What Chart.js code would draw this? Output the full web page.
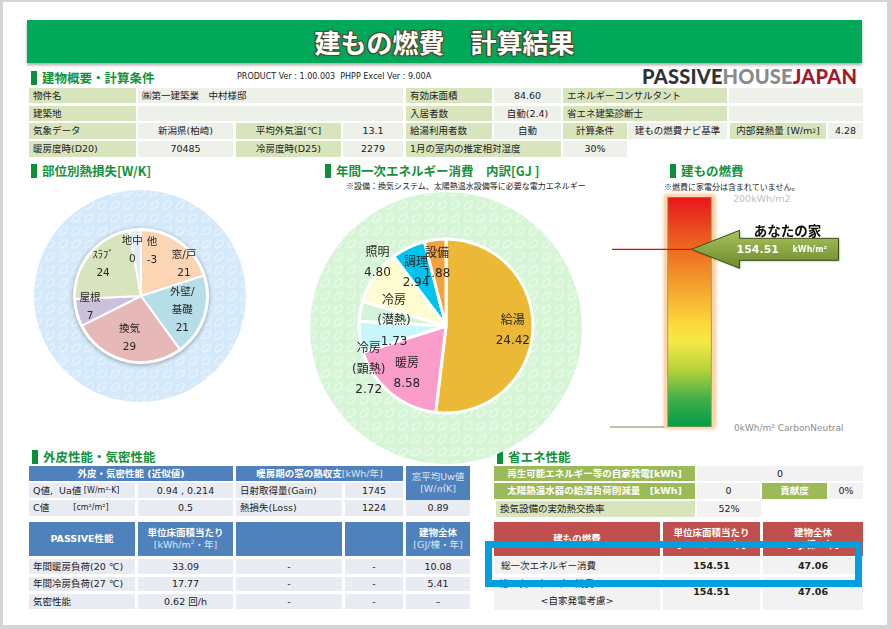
<!DOCTYPE html>
<html lang="ja">
<head>
<meta charset="utf-8">
<script src="https://cdn.jsdelivr.net/npm/chart.js@4.4.1/dist/chart.umd.min.js"></script>
<style>
html, body { margin: 0; padding: 0; }
body {
  width: 892px; height: 629px; position: relative; overflow: hidden;
  background: #d4d4d4;
  font-family: "DejaVu Sans", "Noto Sans CJK JP", sans-serif; color: #222;
}
#page { position: absolute; left: 3px; top: 2px; width: 884px; height: 623px; background: #fff; }
.abs { position: absolute; white-space: nowrap; }
#titlebar {
  position: absolute; left: 27px; top: 20px; width: 835px; height: 43px;
  background: #00a85a; box-shadow: 0 2px 3px rgba(0,0,0,0.35);
  display: flex; align-items: center; justify-content: center;
  font-family: "Noto Sans CJK JP", sans-serif; font-weight: bold; font-size: 26px; color: #fff;
  text-shadow: 1px 1px 0 #4b4b2b, -1px -1px 0 #4b4b2b, 1px -1px 0 #4b4b2b, -1px 1px 0 #4b4b2b, 0 0 3px #4b4b2b;
}
.head {
  position: absolute; font-family: "Noto Sans CJK JP", sans-serif; font-weight: bold;
  font-size: 12.5px; color: #14913a; white-space: nowrap; line-height: 14px;
}
.head::before {
  content: ""; position: absolute; left: -11px; top: 0; width: 6px; height: 14px; background: #0a8f3a;
}
.note { position: absolute; font-family: "Noto Sans CJK JP", sans-serif; font-size: 8px; color: #222; white-space: nowrap; }
canvas { position: absolute; z-index: 1; }
.c {
  position: absolute; display: flex; align-items: center; justify-content: center;
  font-size: 9.5px; white-space: nowrap; box-sizing: border-box; z-index: 2; line-height: 1.25; overflow: hidden;
}
.c.l { justify-content: flex-start; padding-left: 4px; }
.c.col { flex-direction: column; }
.c.top { justify-content: flex-start; }
.g { background: #d8e4bc; }
.v { background: #eef0ea; }
.b { background: #4f81bd; color: #fff; font-weight: bold; }
.bd { background: #e8ecf2; }
.gg { background: #9bbb59; color: #fff; font-weight: bold; }
.r { background: #c0504d; color: #fff; font-weight: bold; }
.w { background: #f2f2f2; }
.sub { font-weight: normal; color: #dbe5f1; }
.sm { font-size: 8px; }
#logo { position: absolute; left: 642px; top: 64px; font-family: Lato, sans-serif; font-weight: 900; font-size: 20px; letter-spacing: 0.2px; }
#focus { position: absolute; left: 485px; top: 541px; width: 377px; height: 46px; box-sizing: border-box; border: 7px solid #00a0e0; z-index: 5; }
</style>
</head>
<body>
<div id="page"></div>
<div id="titlebar">建もの燃費　計算結果</div>

<div class="head" style="left:42px;top:71px;">建物概要・計算条件</div>
<div class="abs" style="left:237px;top:72px;font-size:8px;">PRODUCT Ver : 1.00.003&nbsp; PHPP Excel Ver : 9.00A</div>
<div id="logo"><span style="color:#333">PASSIVE</span><span style="color:#8a8a8a">HOUSE</span><span style="color:#a11a2b">JAPAN</span></div>

<div class="head" style="left:42px;top:164px;">部位別熱損失[W/K]</div>
<div class="head" style="left:336px;top:164px;">年間一次エネルギー消費　内訳[GJ ]</div>
<div class="note" style="left:346px;top:180px;">※設備：換気システム、太陽熱温水設備等に必要な電力エネルギー</div>
<div class="head" style="left:681px;top:164px;">建もの燃費</div>
<div class="note" style="left:664px;top:181px;">※燃費に家電分は含まれていません。</div>
<div class="abs" style="left:733px;top:193px;font-size:9.5px;color:#c0c0c0;">200kWh/m2</div>
<div class="abs" style="left:734px;top:423px;font-size:9px;color:#8c8c8c;">0kWh/m² CarbonNeutral</div>

<div class="head" style="left:43px;top:450px;">外皮性能・気密性能</div>
<div class="head" style="left:508px;top:450px;">省エネ性能</div>

<canvas id="heatPie" width="220" height="220" style="left:31px;top:186px;"></canvas>
<canvas id="energyPie" width="280" height="280" style="left:306px;top:186px;"></canvas>
<canvas id="fuelBar" width="245" height="245" style="left:605px;top:190px;"></canvas>

<div id="focus"></div>

<script>
// 部位別熱損失 [W/K]
const heatLabels = ["窓/戸", "外壁/\n基礎", "換気", "屋根", "ｽﾗﾌﾞ", "地中", "他"];
const heatValues = [21, 21, 29, 7, 24, 0, -3];
const heatColors = ["#fcd5b5", "#b7dee8", "#e6b9b8", "#ccc1da", "#d7e4bd", "#dfe6f3", "#e3e9f6"];

// 年間一次エネルギー消費 内訳 [GJ]
const energyLabels = ["給湯", "暖房", "冷房\n(顕熱)", "冷房\n(潜熱)", "照明", "調理", "設備"];
const energyValues = [24.42, 8.58, 2.72, 1.73, 4.80, 2.94, 1.88];
const energyColors = ["#ebb935", "#fb9dca", "#c8f6fb", "#d5f3d8", "#fffcd2", "#00c4ee", "#f7a13a"];

// 建もの燃費 [kWh/m2]
const fuelScale = [0, 200];
const fuelPerArea = 154.51;

Chart.defaults.font.family = '"DejaVu Sans", "Noto Sans CJK JP", sans-serif';

// table cells: [x1, x2, y, h, html, class]
const cells = [
  [29, 136, 88, 15, "物件名", "g l"],
  [138, 403, 88, 15, "㈱第一建築業　中村様邸", "v l"],
  [406, 492, 88, 15, "有効床面積", "g l"],
  [494, 561, 88, 15, "84.60", "v"],
  [563, 727, 88, 15, "エネルギーコンサルタント", "g l"],
  [729, 863, 88, 15, "", "v"],
  [29, 136, 106, 15, "建築地", "g l"],
  [138, 403, 106, 15, "", "v"],
  [406, 492, 106, 15, "入居者数", "g l"],
  [494, 561, 106, 15, "自動(2.4)", "v"],
  [563, 727, 106, 15, "省エネ建築診断士", "g l"],
  [729, 863, 106, 15, "", "v"],
  [29, 136, 123, 16, "気象データ", "g l"],
  [138, 233, 123, 16, "新潟県(柏崎)", "v"],
  [236, 341, 123, 16, "平均外気温[℃]", "g"],
  [343, 403, 123, 16, "13.1", "v"],
  [406, 492, 123, 16, "給湯利用者数", "g l"],
  [494, 561, 123, 16, "自動", "v"],
  [563, 627, 123, 16, "計算条件", "g"],
  [628, 727, 123, 16, "建もの燃費ナビ基準", "v"],
  [730, 826, 123, 16, "内部発熱量 [W/m<sup style='font-size:6px'>2</sup>]", "g"],
  [828, 863, 123, 16, "4.28", "v"],
  [29, 136, 141, 16, "暖房度時(D20)", "g l"],
  [138, 233, 141, 16, "70485", "v"],
  [236, 341, 141, 16, "冷房度時(D25)", "g"],
  [343, 403, 141, 16, "2279", "v"],
  [406, 561, 141, 16, "1月の室内の推定相対湿度", "g l"],
  [563, 627, 141, 16, "30%", "v"],

  [29, 233, 466, 15, "外皮・気密性能 (近似値)", "b"],
  [236, 403, 466, 15, "暖房期の窓の熱収支 <span class='sub'>[kWh/年]</span>", "b"],
  [406, 470, 466, 34, "<span class='sub'>窓平均Uw値</span><span class='sub'>[W/㎡K]</span>", "b col"],
  [29, 135, 483, 15, "Q値,&nbsp; Ua値 <span class='sm'>&nbsp;[W/m²·K]</span>", "bd l"],
  [138, 233, 483, 15, "0.94 , 0.214", "bd"],
  [236, 342, 483, 15, "日射取得量(Gain)", "bd l"],
  [345, 403, 483, 15, "1745", "bd"],
  [29, 135, 500, 16, "C値 &nbsp;&nbsp;&nbsp;&nbsp;&nbsp;&nbsp;&nbsp;<span class='sm'>[cm²/m²]</span>", "bd l"],
  [138, 233, 500, 16, "0.5", "bd"],
  [236, 342, 500, 16, "熱損失(Loss)", "bd l"],
  [345, 403, 500, 16, "1224", "bd"],
  [406, 470, 500, 16, "0.89", "bd"],
  [29, 135, 522, 34, "PASSIVE性能", "b"],
  [138, 233, 522, 34, "<span>単位床面積当たり</span><span class='sub'>[kWh/m<sup style='font-size:6px'>2</sup>・年]</span>", "b col"],
  [236, 342, 522, 34, "", "b"],
  [345, 403, 522, 34, "", "b"],
  [406, 470, 522, 34, "<span>建物全体</span><span class='sub'>[GJ/棟・年]</span>", "b col"],
  [29, 135, 559, 15, "年間暖房負荷(20 ℃)", "bd l"],
  [138, 233, 559, 15, "33.09", "bd"],
  [236, 342, 559, 15, "-", "bd"],
  [345, 403, 559, 15, "-", "bd"],
  [406, 470, 559, 15, "10.08", "bd"],
  [29, 135, 577, 14, "年間冷房負荷(27 ℃)", "bd l"],
  [138, 233, 577, 14, "17.77", "bd"],
  [236, 342, 577, 14, "-", "bd"],
  [345, 403, 577, 14, "-", "bd"],
  [406, 470, 577, 14, "5.41", "bd"],
  [29, 135, 594, 15, "気密性能", "bd l"],
  [138, 233, 594, 15, "0.62 回/h", "bd"],
  [236, 342, 594, 15, "-", "bd"],
  [345, 403, 594, 15, "-", "bd"],
  [406, 470, 594, 15, "–", "bd"],

  [494, 695, 466, 15, "再生可能エネルギー等の自家発電[kWh]", "gg"],
  [697, 863, 466, 15, "0", "w"],
  [494, 695, 483, 16, "太陽熱温水器の給湯負荷削減量　[kWh]", "gg"],
  [697, 760, 483, 16, "0", "w"],
  [762, 827, 483, 16, "貢献度", "gg"],
  [829, 863, 483, 16, "0%", "w"],
  [496, 695, 501, 16, "換気設備の実効熱交換率", "g l"],
  [697, 761, 501, 16, "52%", "w"],
  [494, 660, 522, 34, "建もの燃費", "r"],
  [663, 760, 522, 34, "<span>単位床面積当たり</span><span>[kWh/m²・年]</span>", "r col"],
  [763, 863, 522, 34, "<span>建物全体</span><span>[GJ/棟・年]</span>", "r col"],
  [494, 660, 557, 17, "&nbsp;総一次エネルギー消費", "w l"],
  [663, 760, 557, 17, "<b>154.51</b>", "w"],
  [763, 863, 557, 17, "<b>47.06</b>", "w"],
  [494, 660, 577, 33, "<span style='align-self:flex-start;padding-left:5px;margin-top:1px'>総一次エネルギー消費</span><span style='margin-top:5px'>&lt;自家発電考慮&gt;</span>", "w col top"],
  [663, 760, 577, 30, "<b>154.51</b>", "w"],
  [763, 863, 577, 30, "<b>47.06</b>", "w"],
  [663, 760, 607, 3, "", "w"],
  [763, 863, 607, 3, "", "w"]
];

cells.forEach(([x1, x2, y, h, html, cls]) => {
  const d = document.createElement("div");
  d.className = "c " + cls;
  d.style.cssText = `left:${x1}px;top:${y}px;width:${x2 - x1}px;height:${h}px;`;
  d.innerHTML = html;
  document.body.appendChild(d);
});

// tiled background for the decorative circles
function tile(base, light) {
  const t = document.createElement("canvas");
  t.width = 13; t.height = 13;
  const c = t.getContext("2d");
  c.fillStyle = base;
  c.fillRect(0, 0, 13, 13);
  c.strokeStyle = light;
  c.lineWidth = 1.2;
  c.beginPath();
  c.moveTo(2, 10);
  c.quadraticCurveTo(2, 2, 10, 2);
  c.quadraticCurveTo(11, 10, 2, 10);
  c.stroke();
  return t;
}

const ringBg = {
  id: "ringBg",
  beforeDatasetsDraw(chart, args, opts) {
    const ctx = chart.ctx;
    const arc = chart.getDatasetMeta(0).data[0];
    const { x, y, outerRadius } = arc.getProps(["x", "y", "outerRadius"], true);
    ctx.save();
    ctx.fillStyle = ctx.createPattern(tile(opts.base, opts.light), "repeat");
    ctx.beginPath();
    ctx.arc(x + opts.dx, y + opts.dy, opts.radius, 0, Math.PI * 2);
    ctx.fill();
    ctx.shadowColor = opts.shadow;
    ctx.shadowBlur = 4;
    ctx.shadowOffsetY = 1;
    ctx.fillStyle = "#fff";
    ctx.beginPath();
    ctx.arc(x, y, outerRadius + opts.rim, 0, Math.PI * 2);
    ctx.fill();
    ctx.restore();
  }
};

const sliceLabels = {
  id: "sliceLabels",
  afterDatasetsDraw(chart, args, opts) {
    const ctx = chart.ctx;
    const values = chart.data.datasets[0].data;
    ctx.save();
    ctx.font = opts.font;
    ctx.fillStyle = "#262626";
    ctx.textAlign = "center";
    ctx.textBaseline = "middle";
    chart.getDatasetMeta(0).data.forEach((arc, i) => {
      const p = arc.getProps(["x", "y", "startAngle", "endAngle", "outerRadius"], true);
      const a = (p.startAngle + p.endAngle) / 2 + opts.shift[i] * Math.PI / 180;
      const r = p.outerRadius * opts.dist[i];
      const cx = p.x + Math.cos(a) * r;
      const cy = p.y + Math.sin(a) * r;
      const lines = chart.data.labels[i].split("\n").concat(values[i].toFixed(opts.decimals));
      lines.forEach((t, k) => ctx.fillText(t, cx, cy + (k - (lines.length - 1) / 2) * opts.lineHeight));
    });
    ctx.restore();
  }
};

new Chart(document.getElementById("heatPie"), {
  type: "pie",
  data: {
    labels: heatLabels,
    datasets: [{ data: heatValues, backgroundColor: heatColors, borderColor: "#fff", borderWidth: 2, radius: 66 }]
  },
  options: {
    responsive: false,
    animation: false,
    layout: { padding: 0 },
    plugins: {
      legend: { display: false },
      tooltip: { enabled: false },
      ringBg: { base: "#d4e9fa", light: "#e8f3fd", radius: 106, dx: -1, dy: 0, rim: 2, shadow: "rgba(0,0,0,0.35)" },
      sliceLabels: {
        font: '10.5px "DejaVu Sans", "Noto Sans CJK JP", sans-serif',
        lineHeight: 18, decimals: 0,
        dist: [0.81, 0.66, 0.67, 0.79, 0.75, 0.70, 0.70],
        shift: [17.6, 0.5, 1.5, 2.5, 1.4, -0.5, 18.8]
      }
    }
  },
  plugins: [ringBg, sliceLabels]
});

new Chart(document.getElementById("energyPie"), {
  type: "pie",
  data: {
    labels: energyLabels,
    datasets: [{ data: energyValues, backgroundColor: energyColors, borderColor: "#fff", borderWidth: 3, radius: 87 }]
  },
  options: {
    responsive: false,
    animation: false,
    layout: { padding: 0 },
    plugins: {
      legend: { display: false },
      tooltip: { enabled: false },
      ringBg: { base: "#d6f4d6", light: "#eafaea", radius: 136, dx: 0, dy: 2, rim: 1, shadow: "rgba(0,0,0,0)" },
      sliceLabels: {
        font: '12px "DejaVu Sans", "Noto Sans CJK JP", sans-serif',
        lineHeight: 20.5, decimals: 2,
        dist: [0.77, 0.71, 1.02, 0.60, 1.07, 0.70, 0.72],
        shift: [0.9, -0.3, -22.2, -4.3, 7.8, -3.9, -1.1]
      }
    }
  },
  plugins: [ringBg, sliceLabels]
});

// gradient bar + "あなたの家" marker
const fuelMarker = {
  id: "fuelMarker",
  beforeDatasetsDraw(chart) {
    const ctx = chart.ctx;
    const bar = chart.getDatasetMeta(0).data[0];
    const { x, y, base, width } = bar.getProps(["x", "y", "base", "width"], true);
    ctx.save();
    ctx.shadowColor = "rgba(246,160,80,0.9)";
    ctx.shadowBlur = 4;
    ctx.fillStyle = "#fbd6ab";
    ctx.fillRect(x - width / 2 - 3, y - 2, width + 6, base - y + 3);
    ctx.restore();
  },
  afterDatasetsDraw(chart, args, opts) {
    const ctx = chart.ctx;
    const area = chart.chartArea;
    const bar = chart.getDatasetMeta(0).data[0];
    const { x, width } = bar.getProps(["x", "width"], true);
    const py = chart.scales.y.getPixelForValue(opts.value);
    ctx.save();
    // base line
    ctx.strokeStyle = "#a3ad86";
    ctx.lineWidth = 1.5;
    ctx.beginPath();
    ctx.moveTo(area.left, area.bottom);
    ctx.lineTo(x - width / 2 - 3, area.bottom);
    ctx.stroke();
    // red marker line
    ctx.strokeStyle = "#ff0000";
    ctx.lineWidth = 1.2;
    ctx.beginPath();
    ctx.moveTo(area.left + 2, py);
    ctx.lineTo(x + 2, py);
    ctx.stroke();
    // arrow
    const tx = x + 2;
    const g = ctx.createLinearGradient(0, py - 19, 0, py + 19);
    g.addColorStop(0, "#a9c35e");
    g.addColorStop(1, "#6b8a2b");
    ctx.beginPath();
    ctx.moveTo(tx, py);
    ctx.lineTo(tx + 48, py - 19);
    ctx.lineTo(tx + 48, py - 11);
    ctx.lineTo(tx + 147, py - 11);
    ctx.lineTo(tx + 147, py + 11);
    ctx.lineTo(tx + 48, py + 11);
    ctx.lineTo(tx + 48, py + 19);
    ctx.closePath();
    ctx.shadowColor = "rgba(0,0,0,0.3)";
    ctx.shadowBlur = 2;
    ctx.shadowOffsetX = 1;
    ctx.shadowOffsetY = 1;
    ctx.fillStyle = g;
    ctx.fill();
    ctx.shadowColor = "transparent";
    ctx.strokeStyle = "#3c4c1c";
    ctx.lineWidth = 1;
    ctx.stroke();
    ctx.textBaseline = "middle";
    ctx.fillStyle = "#fff";
    ctx.font = 'bold 11px "DejaVu Sans", sans-serif';
    ctx.fillText(opts.value.toFixed(2), tx + 45, py + 1);
    ctx.font = 'bold 8px "DejaVu Sans", sans-serif';
    ctx.fillText("kWh/m²", tx + 101, py + 1);
    ctx.fillStyle = "#111";
    ctx.textAlign = "center";
    ctx.font = 'bold 13.5px "Noto Sans CJK JP", sans-serif';
    ctx.fillText("あなたの家", tx + 96, py - 18);
    ctx.restore();
  }
};

new Chart(document.getElementById("fuelBar"), {
  type: "bar",
  data: {
    labels: ["建もの燃費"],
    datasets: [{
      data: [fuelScale],
      barThickness: 44,
      borderColor: "#7d9650",
      borderWidth: 1,
      borderSkipped: false,
      backgroundColor(c) {
        const area = c.chart.chartArea;
        if (!area) return "#f5a52f";
        const g = c.chart.ctx.createLinearGradient(0, area.top, 0, area.bottom);
        g.addColorStop(0, "#e8151b");
        g.addColorStop(0.2, "#ec6120");
        g.addColorStop(0.4, "#f5a52f");
        g.addColorStop(0.55, "#fcd83c");
        g.addColorStop(0.63, "#f4ea45");
        g.addColorStop(0.75, "#b8d23a");
        g.addColorStop(0.88, "#40ae48");
        g.addColorStop(1, "#009b48");
        return g;
      }
    }]
  },
  options: {
    responsive: false,
    animation: false,
    layout: { padding: { left: 5, right: 81, top: 7, bottom: 8 } },
    scales: {
      x: { display: false },
      y: { display: false, min: fuelScale[0], max: fuelScale[1] }
    },
    plugins: {
      legend: { display: false },
      tooltip: { enabled: false },
      fuelMarker: { value: fuelPerArea }
    }
  },
  plugins: [fuelMarker]
});
</script>
</body>
</html>
